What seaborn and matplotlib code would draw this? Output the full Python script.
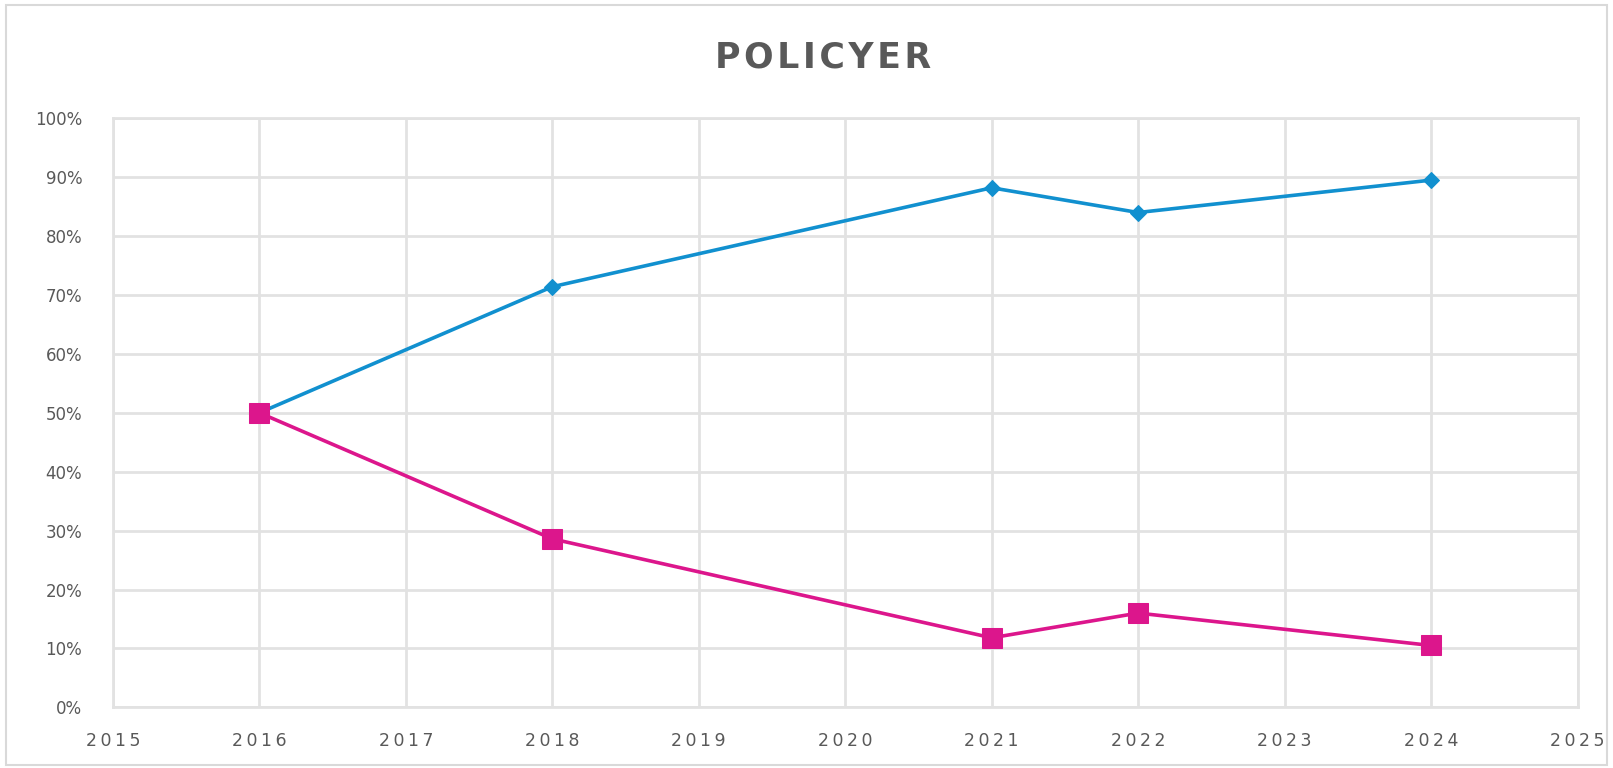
import matplotlib
matplotlib.use("Agg")
import matplotlib.pyplot as plt
import matplotlib.patches as mpatches
import pandas as pd
import seaborn as sns
from matplotlib.ticker import FuncFormatter, MultipleLocator

# data
years_blue = [2016, 2018, 2021, 2022, 2024]
share_blue = [0.50, 0.714, 0.882, 0.84, 0.895]
years_pink = [2016, 2018, 2021, 2022, 2024]
share_pink = [0.50, 0.286, 0.118, 0.16, 0.105]
title = "POLICYER"

BLUE = "#1190cf"
PINK = "#dc168c"
GRID = "#e2e2e2"
TEXT = "#595959"

sns.set_style("white")
plt.rcParams["font.family"] = ["DejaVu Sans"]

blue = pd.DataFrame({"year": years_blue, "share": share_blue})
pink = pd.DataFrame({"year": years_pink, "share": share_pink})

fig = plt.figure(figsize=(16.13, 7.68), dpi=100)
ax = fig.add_axes([0.070, 0.079, 0.908, 0.767])

sns.lineplot(data=blue, x="year", y="share", ax=ax, color=BLUE, linewidth=2.6,
             marker="D", markersize=8, markeredgecolor=BLUE)
sns.lineplot(data=pink, x="year", y="share", ax=ax, color=PINK, linewidth=2.6,
             marker="s", markersize=14, markeredgecolor=PINK)

ax.set_xlim(2015, 2025)
ax.set_ylim(0, 1)
ax.xaxis.set_major_locator(MultipleLocator(1))
ax.yaxis.set_major_locator(MultipleLocator(0.1))
ax.xaxis.set_major_formatter(FuncFormatter(lambda v, p: "\u2009".join(str(int(round(v))))))
ax.yaxis.set_major_formatter(FuncFormatter(lambda v, p: f"{v * 100:.0f}%"))
ax.grid(True, color=GRID, linewidth=2)
ax.set_axisbelow(True)
for s in ax.spines.values():
    s.set_color(GRID)
    s.set_linewidth(2)
ax.tick_params(length=0, colors=TEXT, labelsize=12)
ax.tick_params(axis="x", pad=18, labelsize=12.5)
ax.tick_params(axis="y", pad=22)
ax.set_xlabel("")
ax.set_ylabel("")

fig.text(0.51, 0.925, "\u200a".join(title), ha="center", va="center",
         fontsize=25, fontweight="heavy", color=TEXT)

fig.patches.append(mpatches.Rectangle((0.004, 0.004), 0.992, 0.99, transform=fig.transFigure,
                                      fill=False, edgecolor="#d9d9d9", linewidth=1.5))

fig.savefig("out.png", dpi=100)
